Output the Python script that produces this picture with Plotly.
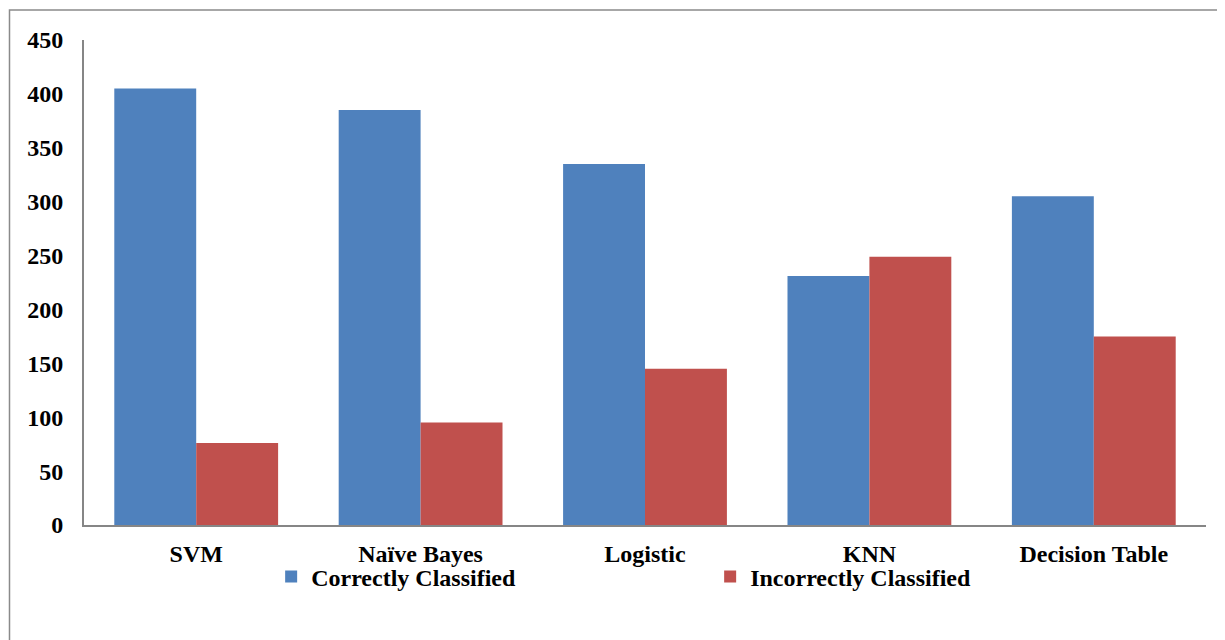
import plotly.graph_objects as go

categories = ["SVM", "Naïve Bayes", "Logistic", "KNN", "Decision Table"]
correct = [405, 385, 335, 231, 305]
incorrect = [76, 95, 145, 249, 175]
series_names = ["Correctly Classified", "Incorrectly Classified"]
y_ticks = [0, 50, 100, 150, 200, 250, 300, 350, 400, 450]

FONT = "Liberation Serif, Times New Roman, serif"

fig = go.Figure()
fig.add_trace(go.Bar(name=series_names[0], x=categories, y=correct,
                     marker=dict(color="#4F81BD", line=dict(width=0))))
fig.add_trace(go.Bar(name=series_names[1], x=categories, y=incorrect,
                     marker=dict(color="#C0504D", line=dict(width=0))))

fig.update_layout(
    width=1217, height=632,
    margin=dict(l=76, r=19, t=32, b=115),
    paper_bgcolor="white", plot_bgcolor="white",
    barmode="group", bargap=0.27, bargroupgap=0,
    font=dict(family=FONT, size=24, color="black"),
    showlegend=True,
    legend=dict(orientation="h", x=0.1668, y=-0.107, xanchor="left", yanchor="middle",
                entrywidth=394, entrywidthmode="pixels",
                font=dict(family=FONT, size=24, color="black", weight="bold"),
                bgcolor="rgba(0,0,0,0)", traceorder="normal"),
    xaxis=dict(showline=True, linecolor="#868686", linewidth=2, ticks="",
               showgrid=False, zeroline=False, ticklabelstandoff=6,
               tickfont=dict(family=FONT, size=24, color="black", weight="bold")),
    yaxis=dict(range=[0, 450], tickvals=y_ticks, showline=True, linecolor="#868686",
               linewidth=2, ticks="", showgrid=False, zeroline=False,
               ticklabelstandoff=14,
               tickfont=dict(family=FONT, size=24, color="black", weight="bold")),
    shapes=[dict(type="rect", xref="paper", yref="paper",
                 x0=-0.0664, x1=1.2, y0=-0.5, y1=1.0619,
                 line=dict(color="#8A8A8A", width=1.5), fillcolor="rgba(0,0,0,0)",
                 layer="below")],
)

fig.write_html("out.html")
